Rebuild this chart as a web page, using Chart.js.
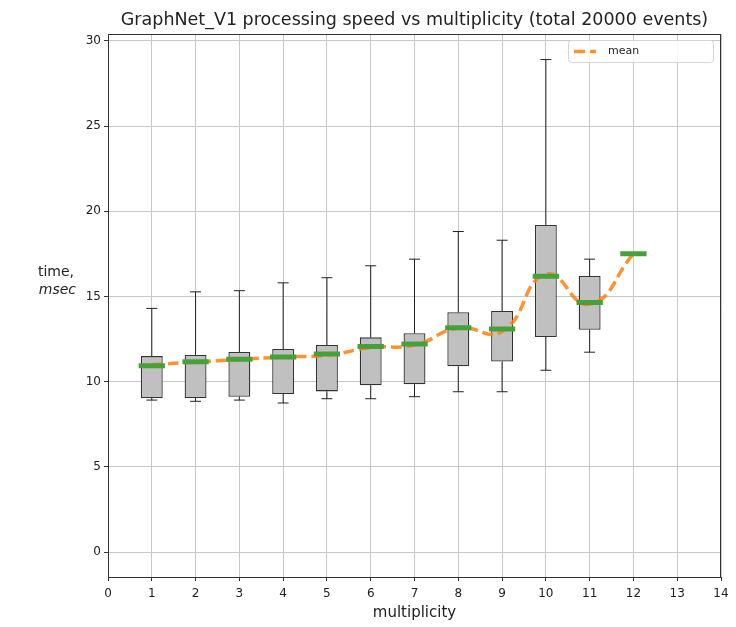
<!DOCTYPE html>
<html>
<head>
<meta charset="utf-8">
<script src="https://cdn.jsdelivr.net/npm/chart.js@4"></script>
<style>
  body { margin: 0; background: #fff; }
  #wrap { width: 736px; height: 627px; }
</style>
</head>
<body>
<div id="wrap"><canvas id="chart" width="736" height="627"></canvas></div>
<script>
// values (msec)
const multiplicity = [1, 2, 3, 4, 5, 6, 7, 8, 9, 10, 11, 12];
const q1 = [9.04, 9.04, 9.12, 9.28, 9.43, 9.79, 9.85, 10.9, 11.18, 12.62, 13.05, 17.5];
const q3 = [11.5, 11.57, 11.74, 11.92, 12.15, 12.6, 12.84, 14.07, 14.15, 19.2, 16.2, 17.5];
const medians = [10.94, 11.17, 11.31, 11.45, 11.63, 12.06, 12.21, 13.17, 13.09, 16.19, 14.64, 17.5];
const whiskerLow = [8.92, 8.85, 8.92, 8.75, 9.0, 9.0, 9.12, 9.41, 9.41, 10.67, 11.73, 17.5];
const whiskerHigh = [14.3, 15.27, 15.34, 15.8, 16.1, 16.8, 17.19, 18.81, 18.3, 28.9, 17.19, 17.5];
const means = [11.0, 11.15, 11.3, 11.45, 11.55, 12.0, 12.15, 13.15, 12.95, 16.3, 14.55, 17.5];
const xTicks = [0, 1, 2, 3, 4, 5, 6, 7, 8, 9, 10, 11, 12, 13, 14];
const yTicks = [0, 5, 10, 15, 20, 25, 30];

const FONT = "'DejaVu Sans', sans-serif";
const capHalf = 0.125;
const medHalf = 0.3;
const meanColor = 'rgba(255,127,14,0.85)';
const meanDash = [11, 5];

// whiskers + caps as broken line segments
const whiskers = [];
multiplicity.forEach((m, i) => {
  whiskers.push({x: m, y: whiskerLow[i]}, {x: m, y: q1[i]}, {x: m, y: null});
  whiskers.push({x: m, y: q3[i]}, {x: m, y: whiskerHigh[i]}, {x: m, y: null});
  whiskers.push({x: m - capHalf, y: whiskerHigh[i]}, {x: m + capHalf, y: whiskerHigh[i]}, {x: m, y: null});
  whiskers.push({x: m - capHalf, y: whiskerLow[i]}, {x: m + capHalf, y: whiskerLow[i]}, {x: m, y: null});
});

const medianSegs = [];
multiplicity.forEach((m, i) => {
  medianSegs.push({x: m - medHalf, y: medians[i]}, {x: m + medHalf, y: medians[i]}, {x: m, y: null});
});

const boxes = multiplicity.map((m, i) => ({x: m, y: [q1[i], q3[i]]}));
const meanPts = multiplicity.map((m, i) => ({x: m, y: means[i]}));

const extras = {
  id: 'extras',
  afterDraw(chart) {
    const ctx = chart.ctx;
    const a = chart.chartArea;
    ctx.save();
    // frame (spines)
    ctx.strokeStyle = '#333';
    ctx.lineWidth = 1;
    ctx.strokeRect(a.left + 0.5, a.top + 0.5, a.right - a.left - 1, a.bottom - a.top);
    // y label, horizontal two lines
    ctx.fillStyle = '#222';
    ctx.textAlign = 'right';
    ctx.textBaseline = 'middle';
    ctx.font = '14px ' + FONT;
    ctx.fillText('time,', 74, 272);
    ctx.font = 'italic 14px ' + FONT;
    ctx.fillText('msec', 76, 290);
    // legend inside the plot
    const lx = a.right - 153, ly = a.top + 6, lw = 145, lh = 22;
    ctx.beginPath();
    ctx.roundRect(lx + 0.5, ly + 0.5, lw, lh, 3);
    ctx.fillStyle = 'rgba(255,255,255,0.85)';
    ctx.fill();
    ctx.strokeStyle = '#d5d5d5';
    ctx.stroke();
    ctx.beginPath();
    ctx.setLineDash(meanDash);
    ctx.strokeStyle = meanColor;
    ctx.lineWidth = 3.5;
    ctx.moveTo(lx + 6, ly + 11.5);
    ctx.lineTo(lx + 28, ly + 11.5);
    ctx.stroke();
    ctx.setLineDash([]);
    ctx.fillStyle = '#222';
    ctx.textAlign = 'left';
    ctx.font = '11px ' + FONT;
    ctx.fillText('mean', lx + 40, ly + 11.5);
    ctx.restore();
  }
};

new Chart(document.getElementById('chart'), {
  type: 'bar',
  data: {
    datasets: [
      {
        type: 'line', label: 'whiskers', data: whiskers, order: 4,
        borderColor: '#222', borderWidth: 1, pointRadius: 0, spanGaps: false, tension: 0
      },
      {
        type: 'bar', label: 'boxes', data: boxes, order: 3,
        backgroundColor: '#c0c0c0', borderColor: '#333', borderWidth: 1.3,
        borderSkipped: false, barPercentage: 0.5, categoryPercentage: 1, grouped: false
      },
      {
        type: 'line', label: 'mean', data: meanPts, order: 2,
        borderColor: meanColor, borderWidth: 3.5, borderDash: meanDash,
        pointRadius: 0, tension: 0.5, borderCapStyle: 'butt'
      },
      {
        type: 'line', label: 'median', data: medianSegs, order: 1,
        borderColor: '#46a13b', borderWidth: 5, pointRadius: 0, spanGaps: false,
        tension: 0, borderCapStyle: 'butt'
      }
    ]
  },
  options: {
    responsive: false,
    animation: false,
    layout: { padding: { left: 0, right: 15, top: 0, bottom: 0 } },
    plugins: {
      legend: { display: false },
      tooltip: { enabled: false },
      title: {
        display: true,
        text: 'GraphNet_V1 processing speed vs multiplicity (total 20000 events)',
        fullSize: false,
        color: '#222',
        font: { family: FONT, size: 17.5, weight: 'normal' },
        padding: { top: 10, bottom: 3 }
      }
    },
    scales: {
      x: {
        type: 'linear', min: 0, max: 14, offset: false,
        afterFit: s => { s.height = 50; },
        afterBuildTicks: s => { s.ticks = xTicks.map(v => ({value: v})); },
        grid: { color: '#c8c8c8', offset: false, tickLength: 4, tickColor: '#333' },
        border: { display: false },
        ticks: { color: '#222', font: { family: FONT, size: 12 }, padding: 6, maxRotation: 0, autoSkip: false },
        title: { display: true, text: 'multiplicity', color: '#222', font: { family: FONT, size: 15 }, padding: { top: 0, bottom: 5 } }
      },
      y: {
        min: -1.46, max: 30.4,
        afterFit: s => { s.width = 108; },
        afterBuildTicks: s => { s.ticks = yTicks.map(v => ({value: v})); },
        grid: { color: '#c8c8c8', tickLength: 4, tickColor: '#333' },
        border: { display: false },
        ticks: { color: '#222', font: { family: FONT, size: 12 }, padding: 3 }
      }
    }
  },
  plugins: [extras]
});
</script>
</body>
</html>
